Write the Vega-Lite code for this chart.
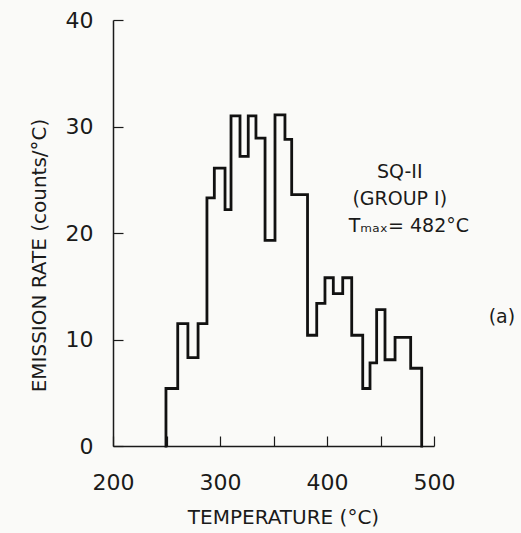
{
  "$schema": "https://vega.github.io/schema/vega-lite/v6.json",
  "width": 321,
  "height": 426,
  "autosize": "none",
  "padding": {"left": 113, "top": 20, "right": 87, "bottom": 87},
  "background": "#fafaf8",
  "config": {
    "view": {"stroke": null},
    "font": "DejaVu Sans",
    "axis": {
      "grid": false,
      "domainColor": "#1a1a1a",
      "domainWidth": 1.5,
      "tickColor": "#1a1a1a",
      "tickWidth": 1.2,
      "tickSize": -10,
      "labelColor": "#1a1a1a",
      "labelFont": "DejaVu Sans",
      "labelFontSize": 22,
      "labelFlush": false,
      "labelOverlap": false,
      "titleColor": "#1a1a1a",
      "titleFont": "DejaVu Sans",
      "titleFontSize": 20,
      "titleFontWeight": "normal"
    }
  },
  "datasets": {
    "steps": [
      {"i": 1, "t": 249.5, "v": 0},
      {"i": 2, "t": 249.5, "v": 5.4},
      {"i": 3, "t": 260.5, "v": 11.5},
      {"i": 4, "t": 270, "v": 8.3},
      {"i": 5, "t": 279.5, "v": 11.5},
      {"i": 6, "t": 287.8, "v": 23.3},
      {"i": 7, "t": 294.7, "v": 26.1},
      {"i": 8, "t": 304.7, "v": 22.2},
      {"i": 9, "t": 310.3, "v": 31},
      {"i": 10, "t": 318.7, "v": 27.2},
      {"i": 11, "t": 326.4, "v": 31},
      {"i": 12, "t": 333.6, "v": 28.9},
      {"i": 13, "t": 342.1, "v": 19.3},
      {"i": 14, "t": 351.4, "v": 31.1},
      {"i": 15, "t": 360.7, "v": 28.8},
      {"i": 16, "t": 367, "v": 23.6},
      {"i": 17, "t": 381.8, "v": 10.4},
      {"i": 18, "t": 390.4, "v": 13.4},
      {"i": 19, "t": 398.1, "v": 15.8},
      {"i": 20, "t": 405.9, "v": 14.3},
      {"i": 21, "t": 414.7, "v": 15.8},
      {"i": 22, "t": 423.1, "v": 10.4},
      {"i": 23, "t": 433.4, "v": 5.4},
      {"i": 24, "t": 440.2, "v": 7.8},
      {"i": 25, "t": 446.4, "v": 12.8},
      {"i": 26, "t": 454.2, "v": 8.1},
      {"i": 27, "t": 463.6, "v": 10.2},
      {"i": 28, "t": 478.2, "v": 7.3},
      {"i": 29, "t": 488.5, "v": 0}
    ],
    "notes": [
      {"t": 468, "v": 25.7, "label": "SQ-II"},
      {"t": 468, "v": 23.2, "label": "(GROUP I)"},
      {"t": 476.5, "v": 20.7, "label": "Tₘₐₓ= 482°C"},
      {"t": 563.5, "v": 12.1, "label": "(a)"}
    ]
  },
  "layer": [
    {
      "data": {"name": "steps"},
      "mark": {"type": "line", "interpolate": "step-after", "color": "#111111", "strokeWidth": 2.8, "strokeJoin": "miter", "strokeCap": "square"},
      "encoding": {
        "order": {"field": "i", "type": "quantitative"},
        "x": {
          "field": "t",
          "type": "quantitative",
          "scale": {"domain": [200, 500], "nice": false, "zero": false},
          "axis": {
            "title": "TEMPERATURE  (°C)",
            "values": [200, 250, 300, 350, 400, 450, 500],
            "labelExpr": "datum.value % 100 === 0 ? datum.label : ''",
            "labelPadding": 36,
            "titlePadding": 14,
            "titleX": 170
          }
        },
        "y": {
          "field": "v",
          "type": "quantitative",
          "scale": {"domain": [0, 40], "nice": false, "zero": true},
          "axis": {
            "title": "EMISSION  RATE  (counts/°C)",
            "values": [0, 10, 20, 30, 40],
            "labelPadding": 30,
            "titlePadding": 16,
            "titleY": 235
          }
        }
      }
    },
    {
      "data": {"name": "notes"},
      "mark": {"type": "text", "font": "DejaVu Sans", "fontSize": 19, "color": "#1a1a1a", "align": "center", "baseline": "middle", "clip": false},
      "encoding": {
        "x": {"field": "t", "type": "quantitative"},
        "y": {"field": "v", "type": "quantitative"},
        "text": {"field": "label"}
      }
    }
  ]
}
